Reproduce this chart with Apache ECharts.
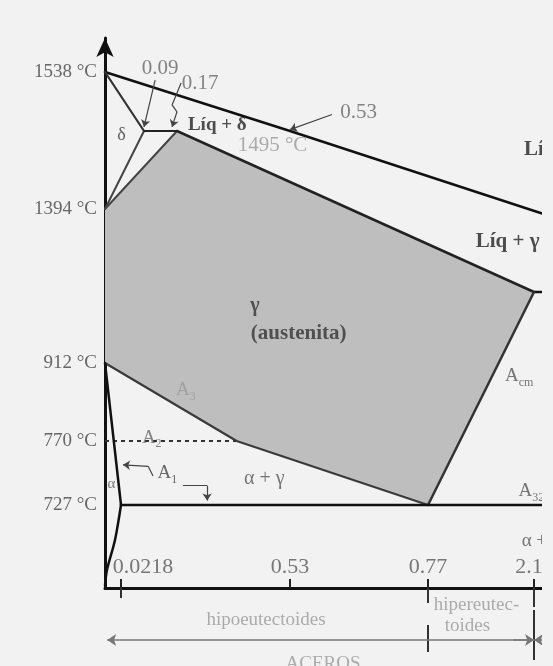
<!DOCTYPE html>
<html>
<head>
<meta charset="utf-8">
<script src="https://cdn.jsdelivr.net/npm/echarts@6/dist/echarts.min.js"></script>
<style>
  html, body { margin: 0; padding: 0; background: #f2f2f2; }
  #chart { width: 553px; height: 666px; }
</style>
</head>
<body>
<div id="chart"></div>
<script>
// Fe–C phase diagram, steel side, on a schematic (stretched) composition / temperature scale.

// Axis ticks
const tempTicks = [1538, 1394, 912, 770, 727];          // °C
const compTicks = [0.0218, 0.53, 0.77, 2.11];           // wt% C

// Phase boundaries as [wt% C, °C]
const liquidus        = [[0, 1538], [0.53, 1495], [4.3, 1148]];
const deltaSolidus    = [[0, 1538], [0.09, 1495]];
const deltaSolvus     = [[0.09, 1495], [0, 1394]];
const gammaDeltaStart = [[0, 1394], [0.17, 1495]];
const peritectic      = [[0.09, 1495], [0.17, 1495]];
const solidus         = [[0.17, 1495], [2.11, 1148]];
const eutectic        = [[2.11, 1148], [4.3, 1148]];
const acmLine         = [[2.11, 1148], [0.77, 727]];
const a3Line          = [[0, 912], [0.36, 770], [0.77, 727]];
const curieLine       = [[0, 770], [0.36, 770]];
const alphaUpper      = [[0, 912], [0.0218, 727]];
const alphaSolvus     = [[0.0218, 727], [0.0136, 420], [0.0027, 158], [0, 20]];
const eutectoid       = [[0.0218, 727], [6.67, 727]];
const austenite       = [[0, 1394], [0.17, 1495], [2.11, 1148], [0.77, 727], [0.36, 770], [0, 912]];

// Schematic scales: value -> axis units (piecewise linear between anchors)
const compScale = [[0, 0], [0.0218, 16], [0.09, 39], [0.17, 72], [0.53, 185], [0.77, 323], [2.11, 429], [4.3, 677], [6.67, 995]];
const tempScale = [[0, 0], [727, 83], [770, 147], [912, 225], [1148, 296], [1394, 379], [1495, 457], [1538, 516]];

function interp(anchors, v) {
  let i = 1;
  while (i < anchors.length - 1 && v > anchors[i][0]) i++;
  const [a0, b0] = anchors[i - 1], [a1, b1] = anchors[i];
  return b0 + (v - a0) * (b1 - b0) / (a1 - a0);
}
const X = c => interp(compScale, c);
const Y = t => interp(tempScale, t);
const P = pts => pts.map(([c, t]) => [X(c), Y(t)]);

const SERIF = "'Liberation Serif', 'DejaVu Serif', serif";
const BG = '#f2f2f2';

// Text annotations placed at [wt% C, °C]
const sub = (main, s) => `{m|${main}}{s|${s}}`;
const labels = [
  { text: 'δ',            at: [0.025, 1489], size: 18, color: '#333' },
  { text: '0.09',         at: [0.13, 1540],  size: 21, color: '#666' },
  { text: '0.17',         at: [0.245, 1529], size: 21, color: '#666' },
  { text: 'Líq + δ',      at: [0.30, 1499],  size: 19, color: '#222', bold: true },
  { text: '1495 °C',      at: [0.476, 1476], size: 21, color: '#999' },
  { text: '0.53',         at: [0.65, 1508],  size: 21, color: '#666' },
  { text: 'Líquido',      at: [1.99, 1470],  size: 21, color: '#222', bold: true, align: 'left' },
  { text: 'Líq + γ',      at: [1.38, 1296],  size: 21, color: '#222', bold: true, align: 'left' },
  { text: 'γ',            at: [0.42, 1101],  size: 20, color: '#333', bold: true },
  { text: '(austenita)',  at: [0.546, 1008], size: 21, color: '#333', bold: true },
  { text: sub('A', '3'),  at: [0.20, 861],   size: 19, color: '#999' },
  { text: sub('A', '2'),  at: [0.11, 775],   size: 19, color: '#666' },
  { text: sub('A', '1'),  at: [0.148, 748],  size: 19, color: '#444' },
  { text: 'α + γ',        at: [0.45, 744],   size: 20, color: '#555' },
  { text: 'α',            at: [0.0095, 741], size: 15, color: '#555' },
  { text: sub('A', 'cm'), at: [1.93, 887],   size: 19, color: '#555' },
  { text: sub('A', '321'),at: [1.92, 736],   size: 19, color: '#555', align: 'left' },
  { text: 'α + Fe₃C',     at: [1.96, 403],   size: 19, color: '#555', align: 'left' }
];

// Leader arrows: polyline in [wt% C, °C], arrow head at the last point
const leaders = [
  [[0.117, 1532], [0.09, 1498]],
  [[0.183, 1530], [0.158, 1514], [0.17, 1509], [0.158, 1498]],
  [[0.603, 1507], [0.53, 1496]],
  [[0.112, 746.5], [0.10, 753], [0.0277, 754]],
  [[0.189, 740], [0.266, 740], [0.266, 730]]
];

function boundary(data, color, width, extra) {
  return Object.assign({
    type: 'line', xAxisIndex: 0, yAxisIndex: 0, data: P(data), symbol: 'none',
    silent: true, z: 3, lineStyle: { color: color, width: width, cap: 'round', join: 'round' }
  }, extra || {});
}

function textItem(l, pos) {
  const weight = l.bold ? 'bold' : 'normal';
  return {
    value: pos,
    label: {
      show: true, position: [0, 0], formatter: l.text,
      align: l.align || 'center', verticalAlign: l.vAlign || 'middle',
      fontFamily: SERIF, fontSize: l.size, color: l.color, fontWeight: weight,
      rich: {
        m: { fontFamily: SERIF, fontSize: l.size, color: l.color, fontWeight: weight },
        s: { fontFamily: SERIF, fontSize: Math.round(l.size * 0.62), color: l.color, fontWeight: weight,
             padding: [Math.round(l.size * 0.7), 0, 0, 0] }
      }
    }
  };
}

// Segments split so that only the final leg of each leader carries the head
const leaderBodies = [], leaderHeads = [];
leaders.forEach(path => {
  const pts = P(path);
  for (let i = 0; i < pts.length - 2; i++) leaderBodies.push({ coords: [pts[i], pts[i + 1]] });
  leaderHeads.push({ coords: [pts[pts.length - 2], pts[pts.length - 1]] });
});

// Strip under the composition axis: x in composition, y as depth below the axis line
const S = (c, d) => [X(c), d];
const midX = (a, b) => (X(a) + X(b)) / 2;
const stripTicks = [
  { coords: [S(0.0218, 0), S(0.0218, 10)] },
  { coords: [S(0.77, 0), S(0.77, 15)] },
  { coords: [S(2.11, 0), S(2.11, 19)] },
  { coords: [S(0.77, 37), S(0.77, 64)] },
  { coords: [S(2.11, 22), S(2.11, 72)] }
];
const stripArrows = [
  { coords: [S(2.11, 52), S(0.003, 52)] },
  { coords: [S(1.85, 52), S(2.11, 52)] },
  { coords: [S(2.45, 52), S(2.11, 52)] }
];
const stripText = [
  { text: 'hipoeutectoides', pos: [midX(0, 0.77), 33] },
  { text: 'hipereutec-',     pos: [midX(0.77, 2.11) - 4, 18] },
  { text: 'toides',          pos: [midX(0.77, 2.11) - 13, 39] },
  { text: 'ACEROS',          pos: [midX(0, 2.11) + 4, 67], vAlign: 'top' }
];

const chart = echarts.init(document.getElementById('chart'), null, { renderer: 'canvas' });

const option = {
  backgroundColor: BG,
  animation: false,
  grid: [
    { left: 105, right: 11, top: 38, bottom: 78, containLabel: false, outerBoundsMode: 'none' },
    { left: 105, right: 11, top: 588, bottom: 0, containLabel: false, outerBoundsMode: 'none' }
  ],
  xAxis: [
    {
      type: 'value', gridIndex: 0, min: 0, max: 437,
      splitLine: { show: false },
      axisLine: { show: true, onZero: true, lineStyle: { color: '#111', width: 3 } },
      axisTick: { show: true, inside: true, length: 9, customValues: compTicks.map(X),
                  lineStyle: { color: '#222', width: 2 } },
      axisLabel: {
        show: true, inside: true, margin: 10, verticalAlign: 'bottom',
        customValues: compTicks.map(X),
        fontFamily: SERIF, fontSize: 22, color: '#777',
        formatter: v => {
          const c = compTicks.find(t => Math.abs(X(t) - v) < 0.5);
          return c === 0.0218 ? `{w|${c}}` : `{n|${c}}`;
        },
        rich: {
          n: { fontFamily: SERIF, fontSize: 22, color: '#777' },
          w: { fontFamily: SERIF, fontSize: 22, color: '#777', padding: [0, 0, 0, 44] }
        }
      }
    },
    { type: 'value', gridIndex: 1, min: 0, max: 437, show: false }
  ],
  yAxis: [
    {
      type: 'value', gridIndex: 0, min: 0, max: 550,
      splitLine: { show: false },
      axisLine: { show: true, onZero: false, symbol: ['none', 'arrow'], symbolSize: [13, 19],
                  lineStyle: { color: '#111', width: 3 } },
      axisTick: { show: false },
      axisLabel: {
        show: true, margin: 8, customValues: tempTicks.map(Y),
        fontFamily: SERIF, fontSize: 19, color: '#666',
        formatter: v => {
          const t = tempTicks.find(k => Math.abs(Y(k) - v) < 0.5);
          return `${t} °C`;
        }
      }
    },
    { type: 'value', gridIndex: 1, min: 0, max: 78, inverse: true, show: false }
  ],
  // blank margin along the right edge of the sheet
  graphic: [
    { type: 'rect', right: 0, top: 0, z: 100, silent: true,
      shape: { width: 11, height: 666 }, style: { fill: BG } }
  ],
  series: [
    {
      type: 'custom', xAxisIndex: 0, yAxisIndex: 0, z: 1, silent: true, data: [[0, 0]],
      renderItem: (params, api) => ({
        type: 'polygon',
        shape: { points: P(austenite).map(p => api.coord(p)) },
        style: { fill: '#bebebe' }
      })
    },
    boundary(liquidus, '#111', 2.5),
    boundary(deltaSolidus, '#333', 2.2),
    boundary(deltaSolvus, '#444', 2),
    boundary(gammaDeltaStart, '#444', 2),
    boundary(peritectic, '#222', 2),
    boundary(solidus, '#222', 2.5),
    boundary(eutectic, '#111', 2.5),
    boundary(acmLine, '#333', 2.5),
    boundary(a3Line, '#3a3a3a', 2.2),
    boundary(curieLine, '#333', 2, { lineStyle: { color: '#333', width: 2, type: [4, 4] } }),
    boundary(alphaUpper, '#111', 2.5),
    boundary(alphaSolvus, '#111', 2.5, { smooth: 0.3 }),
    boundary(eutectoid, '#111', 2.5),
    {
      type: 'lines', coordinateSystem: 'cartesian2d', xAxisIndex: 0, yAxisIndex: 0, z: 4, silent: true,
      symbol: 'none', lineStyle: { color: '#444', width: 1.2, opacity: 1, curveness: 0 },
      data: leaderBodies
    },
    {
      type: 'lines', coordinateSystem: 'cartesian2d', xAxisIndex: 0, yAxisIndex: 0, z: 4, silent: true,
      symbol: ['none', 'arrow'], symbolSize: 7,
      lineStyle: { color: '#444', width: 1.2, opacity: 1, curveness: 0 },
      data: leaderHeads
    },
    {
      type: 'scatter', xAxisIndex: 0, yAxisIndex: 0, z: 5, silent: true,
      symbol: 'circle', symbolSize: 1, itemStyle: { color: 'rgba(0,0,0,0)' },
      data: labels.map(l => textItem(l, [X(l.at[0]), Y(l.at[1])]))
    },
    {
      type: 'lines', coordinateSystem: 'cartesian2d', xAxisIndex: 1, yAxisIndex: 1, z: 4, silent: true,
      symbol: 'none', lineStyle: { color: '#333', width: 2, opacity: 1, curveness: 0 },
      data: stripTicks
    },
    {
      type: 'lines', coordinateSystem: 'cartesian2d', xAxisIndex: 1, yAxisIndex: 1, z: 4, silent: true,
      symbol: ['none', 'arrow'], symbolSize: 9,
      lineStyle: { color: '#777', width: 1.5, opacity: 1, curveness: 0 },
      data: stripArrows
    },
    {
      type: 'scatter', xAxisIndex: 1, yAxisIndex: 1, z: 5, silent: true,
      symbol: 'circle', symbolSize: 1, itemStyle: { color: 'rgba(0,0,0,0)' },
      data: stripText.map(t => textItem({ text: t.text, size: 19, color: '#999', vAlign: t.vAlign }, t.pos))
    }
  ]
};

chart.setOption(option);
</script>
</body>
</html>
